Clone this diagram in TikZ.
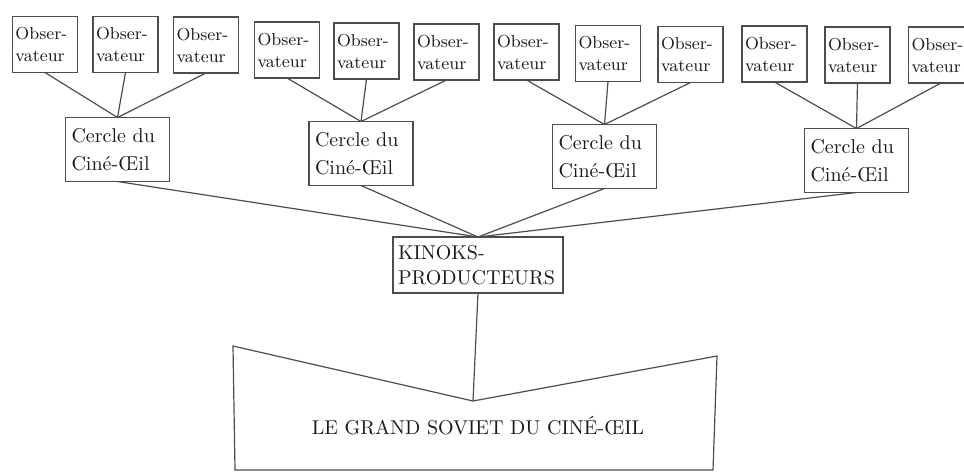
\documentclass[tikz,border=0pt]{standalone}
\usepackage{fontspec}
\definecolor{c4d4d4d}{RGB}{77,77,77}
\definecolor{c1a1a1a}{RGB}{26,26,26}
\tikzset{
  obsbox/.style={draw=c4d4d4d,line width=0.600pt,inner xsep=1.5pt,
    text width=29.5pt,align=left,minimum height=28pt,
    font=\fontsize{8.7}{11}\selectfont,text=c1a1a1a},
  cerclebox/.style={draw=c4d4d4d,line width=0.600pt,inner xsep=3pt,
    text width=46pt,align=left,minimum height=32pt,
    font=\fontsize{10}{14}\selectfont,text=c1a1a1a},
  kinobox/.style={draw=c4d4d4d,line width=0.600pt,inner xsep=2.5pt,
    text width=80pt,align=left,minimum height=28pt,
    font=\fontsize{10}{12.5}\selectfont,text=c1a1a1a},
  link/.style={draw=c4d4d4d,line width=0.600pt}
}

\begin{document}
\begin{tikzpicture}[y=0.50pt,x=0.50pt,yscale=-1, inner sep=0pt, outer sep=0pt]
  \useasboundingbox (0,0) rectangle (964,473);

  % observateurs
  \path (45,44.5) node[obsbox] (obs1) {Obser-\\vateur};
  \path (125.5,44.5) node[obsbox] (obs2) {Obser-\\vateur};
  \path (206,45) node[obsbox] (obs3) {Obser-\\vateur};
  \path (287,50) node[obsbox] (obs4) {Obser-\\vateur};
  \path (366.5,51) node[obsbox] (obs5) {Obser-\\vateur};
  \path (446.5,52) node[obsbox] (obs6) {Obser-\\vateur};
  \path (526.5,52) node[obsbox] (obs7) {Obser-\\vateur};
  \path (608,53.5) node[obsbox] (obs8) {Obser-\\vateur};
  \path (690.5,54.5) node[obsbox] (obs9) {Obser-\\vateur};
  \path (774.5,54) node[obsbox] (obs10) {Obser-\\vateur};
  \path (857.5,55) node[obsbox] (obs11) {Obser-\\vateur};
  \path (941,55) node[obsbox] (obs12) {Obser-\\vateur};

  % cercles
  \path (117.5,149.5) node[cerclebox] (cercle1) {Cercle du\\Ciné-Œil};
  \path (361,153.5) node[cerclebox] (cercle2) {Cercle du\\Ciné-Œil};
  \path (604.5,156.5) node[cerclebox] (cercle3) {Cercle du\\Ciné-Œil};
  \path (856.5,160.5) node[cerclebox] (cercle4) {Cercle du\\Ciné-Œil};

  \path (478,265) node[kinobox] (kinoks) {KINOKS-\\PRODUCTEURS};

  \path[link] (obs1.south) -- (cercle1.north);
  \path[link] (obs2.south) -- (cercle1.north);
  \path[link] (obs3.south) -- (cercle1.north);
  \path[link] (obs4.south) -- (cercle2.north);
  \path[link] (obs5.south) -- (cercle2.north);
  \path[link] (obs6.south) -- (cercle2.north);
  \path[link] (obs7.south) -- (cercle3.north);
  \path[link] (obs8.south) -- (cercle3.north);
  \path[link] (obs9.south) -- (cercle3.north);
  \path[link] (obs10.south) -- (cercle4.north);
  \path[link] (obs11.south) -- (cercle4.north);
  \path[link] (obs12.south) -- (cercle4.north);

  \path[link] (cercle1.south) -- (kinoks.north);
  \path[link] (cercle2.south) -- (kinoks.north);
  \path[link] (cercle3.south) -- (kinoks.north);
  \path[link] (cercle4.south) -- (kinoks.north);

  % grand soviet
  \coordinate (apex) at (473,401);
  \path[link,line join=miter] (233,346) -- (apex) -- (717,356) --
    (713,470) -- (235,470) -- cycle;
  \path[link] (kinoks.south) -- (apex);
  \path (478,426) node[font=\fontsize{10}{12}\selectfont,text=c1a1a1a]
    (soviet) {LE GRAND SOVIET DU CINÉ-ŒIL};
\end{tikzpicture}
\end{document}
